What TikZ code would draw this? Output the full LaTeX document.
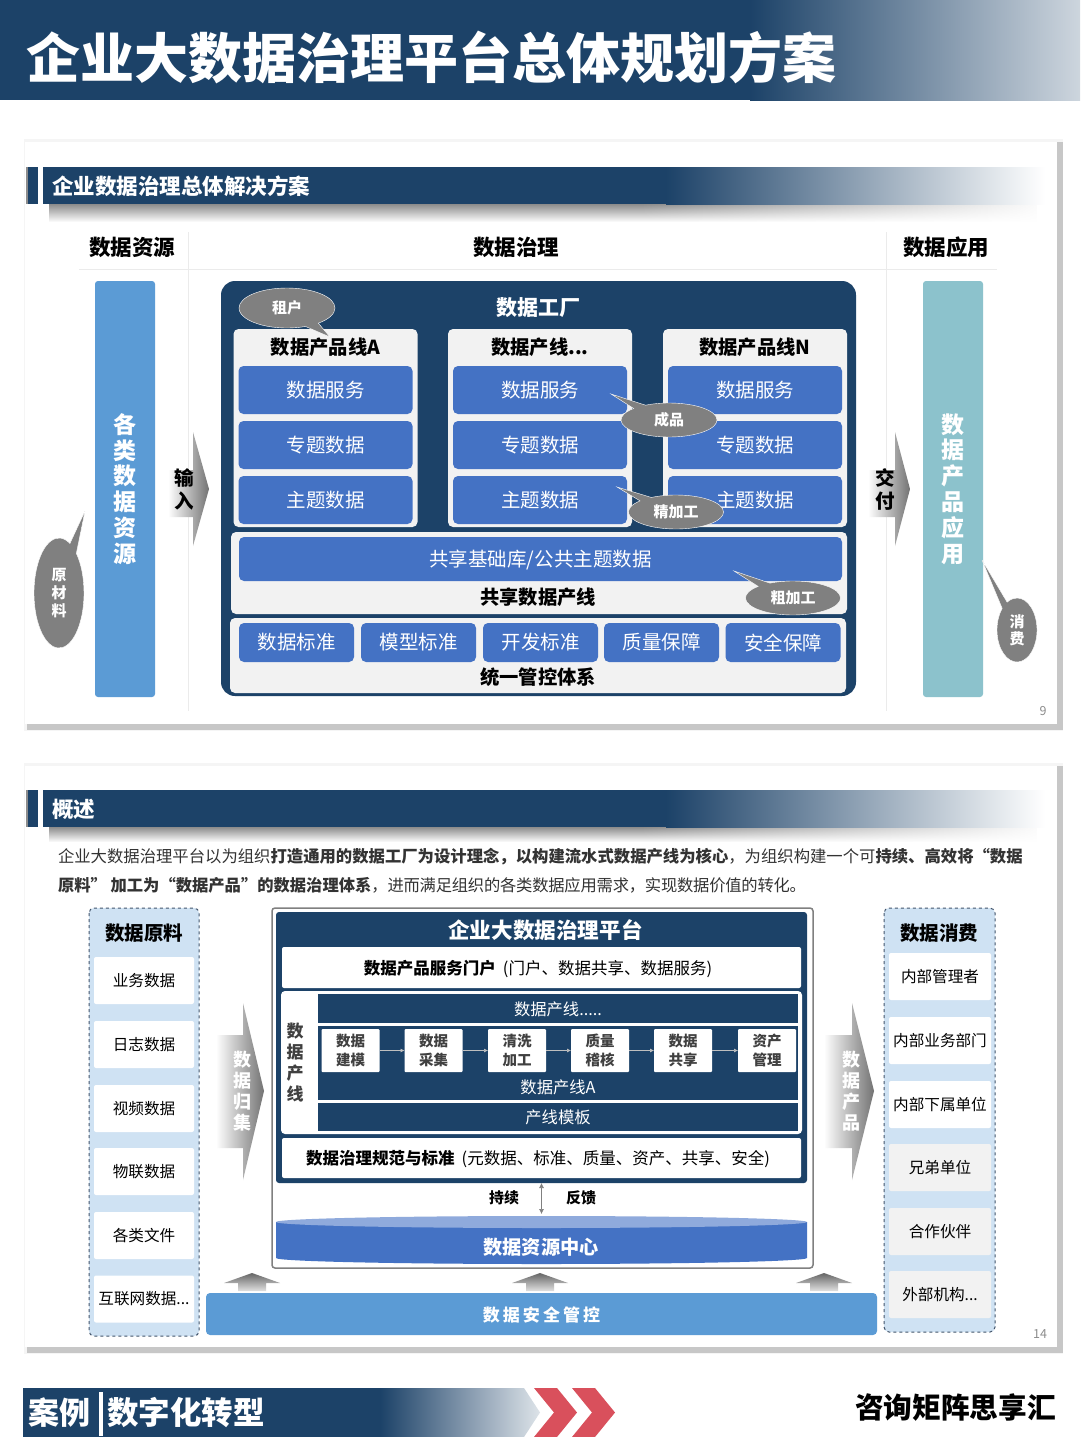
\documentclass[tikz,border=0pt]{standalone}
\usepackage{fontspec}
\setmainfont{Noto Sans CJK SC}
\usetikzlibrary{calc}
\usetikzlibrary{positioning}
\usetikzlibrary{fadings}
\usetikzlibrary{shapes.callouts}
\usetikzlibrary{arrows.meta}
\definecolor{navy}{HTML}{1C4268}
\definecolor{barblue}{HTML}{5B9BD5}
\definecolor{cellblue}{HTML}{4472C4}
\definecolor{tealbar}{HTML}{8CC2CC}
\definecolor{cardgray}{HTML}{F2F2F2}
\definecolor{bubble}{HTML}{808080}
\definecolor{dashfill}{HTML}{CFE2F3}
\definecolor{dashline}{HTML}{44566C}
\definecolor{chevron}{HTML}{D9505C}
\newcommand{\fsz}[1]{\fontsize{#1}{#1}\selectfont}
\newcommand{\sink}[2]{\raisebox{-#1}[\height][\depth]{#2}}
\tikzset{
    base/.style={inner sep=0pt, outer sep=0pt, text centered},
    cell/.style={base, fill=cellblue, rounded corners=5pt, text=white, font=\fsz{19.5}},
    card/.style={base, fill=cardgray, rounded corners=5pt},
    cardtitle/.style={base, font=\fsz{19.3}\bfseries},
    bubblebox/.style={base, ellipse callout, fill=bubble, draw=white, line width=0.4pt, text=white, font=\fsz{15}\bfseries, callout pointer arc=18},
    sidebar/.style={base, rounded corners=3pt, text=white, align=center, font=\fontsize{23}{25.8}\selectfont\bfseries},
    headbar/.style={base, anchor=west, text=white, font=\fsz{21.5}\bfseries},
    colhead/.style={base, font=\fsz{21.5}\bfseries},
    vlabel/.style={base, align=center, font=\fontsize{19.5}{23}\selectfont\bfseries},
    vwhite/.style={base, align=center, text=white, font=\fontsize{18}{21}\selectfont\bfseries},
    darkrow/.style={base, fill=navy, text=white, font=\fsz{16.3}},
    whiterow/.style={base, fill=white, rounded corners=2pt, font=\fsz{16.5}},
    source/.style={base, fill=white, rounded corners=2pt, minimum width=100pt, minimum height=47pt, font=\fsz{15.6}},
    stepcell/.style={base, fill=white, rounded corners=1pt, minimum width=58pt, minimum height=43pt, align=center, text=black!75, font=\fontsize{14.5}{18.5}\selectfont\bfseries},
    flow/.style={-{Latex[length=4pt,width=4pt]}, black!25, line width=0.6pt},
    pageno/.style={base, text=black!45, font=\fsz{12.5}},
    dashbox/.style={fill=dashfill, draw=dashline, dashed, line width=1pt, rounded corners=5pt},
    divider/.style={black!8, line width=0.8pt}
}
\begin{document}
\begin{tikzpicture}[x=1pt, y=-1pt]
    \useasboundingbox (0,0) rectangle (1080,1437);
    \fill[white] (0,0) rectangle (1080,1437);

    % Title band
    \fill[navy] (0,0) rectangle (751,100);
    \shade[left color=navy, right color=navy!22] (750,0) rectangle (1080,100);
    \node[base, anchor=west, text=white, font=\fsz{54}\bfseries] (title) at (26,57) {企业大数据治理平台总体规划方案};

    % First slide
    \fill[black!4] (24,139) rectangle (1063,731);
    \fill[black!22] (27,142) rectangle (1063,730);
    \fill[white] (25,142) rectangle (1057,724);
    \fill[black!45, path fading=south] (50,204) rectangle (1040,222);
    \fill[white, path fading=west] (640,200) rectangle (1050,224);
    \fill[black!45] (26,167) rectangle (28,204);
    \fill[navy] (28,167) rectangle (38,204);
    \fill[navy] (43,167) rectangle (667,204);
    \shade[left color=navy, right color=white] (666,167) rectangle (1045,204);
    \node[headbar] (headone) at (52,186) {企业数据治理总体解决方案};

    % Column heads
    \draw[divider] (79,269) -- (997,269);
    \draw[divider] (188,232) -- (188,711);
    \draw[divider] (886,232) -- (886,711);
    \node[colhead] (srchead) at (132,247) {数据资源};
    \node[colhead] (govhead) at (516,247) {数据治理};
    \node[colhead] (apphead) at (946,247) {数据应用};

    % Side bars
    \node[sidebar, fill=barblue, minimum width=60pt, minimum height=416pt] (srcbar) at (125,489) {各\\类\\数\\据\\资\\源};
    \node[sidebar, fill=tealbar, minimum width=60pt, minimum height=416pt] (appbar) at (953,489) {数\\据\\产\\品\\应\\用};

    % Input and delivery arrows
    \shade[left color=white, right color=black!55] (168,470) -- (193,470) -- (193,432) -- (209,489) -- (193,546) -- (193,517) -- (168,517) -- cycle;
    \shade[left color=white, right color=black!55] (868,470) -- (895,470) -- (895,432) -- (910,489) -- (895,546) -- (895,517) -- (868,517) -- cycle;
    \node[vlabel] (input) at (184,489) {输\\入};
    \node[vlabel] (deliver) at (885,489) {交\\付};

    % Data factory
    \node[base, fill=navy, rounded corners=14pt, minimum width=635pt, minimum height=415pt] (factory) at (538.5,488.5) {};
    \node[base, text=white, font=\fsz{21}\bfseries] (factoryname) at (538,307.5) {数据工厂};

    % Product lines
    \foreach \cx/\ctitle [count=\i] in {325.5/数据产品线A, 540/{数据产线...}, 755/数据产品线N} {
        \node[card, minimum width=184pt, minimum height=198pt] (line\i) at (\cx,428) {};
        \node[cardtitle] (linename\i) at (\cx,347) {\ctitle};
        \node[cell, minimum width=174pt, minimum height=48pt] (serve\i) at (\cx,390) {数据服务};
        \node[cell, minimum width=174pt, minimum height=48pt] (topic\i) at (\cx,445) {专题数据};
        \node[cell, minimum width=174pt, minimum height=48pt] (theme\i) at (\cx,500) {主题数据};
    }

    % Shared line
    \node[card, minimum width=616pt, minimum height=82pt] (shared) at (539,573) {};
    \node[cell, minimum width=603pt, minimum height=44pt] (sharedbase) at (540.5,559) {\sink{1pt}{共享基础库/公共主题数据}};
    \node[cardtitle] (sharedname) at (538,597.5) {共享数据产线};

    % Control system
    \node[card, minimum width=616pt, minimum height=75pt] (control) at (538,655.5) {};
    \foreach \cx/\ctext [count=\i] in {296.5/数据标准, 418.5/模型标准, 540.5/开发标准, 661.5/质量保障, 783/安全保障} {
        \node[cell, minimum width=115pt, minimum height=39pt] (std\i) at (\cx,642.5) {\ctext};
    }
    \node[cardtitle] (controlname) at (538,677) {统一管控体系};

    % Callouts
    \node[bubblebox, minimum width=96pt, minimum height=40pt, callout absolute pointer={(330,337)}] (tenant) at (287,308) {租户};
    \node[bubblebox, minimum width=96pt, minimum height=34pt, callout absolute pointer={(611,394)}] (finished) at (669,420) {成品};
    \node[bubblebox, minimum width=95pt, minimum height=34pt, callout absolute pointer={(617,487)}] (refined) at (676,512) {精加工};
    \node[bubblebox, minimum width=95pt, minimum height=34pt, callout absolute pointer={(734,571)}] (rough) at (793,598) {粗加工};
    \node[bubblebox, align=center, minimum width=50pt, minimum height=110pt, font=\fontsize{15}{18}\selectfont\bfseries, callout absolute pointer={(85,511)}] (rawmat) at (59,593) {原\\材\\料};
    \node[bubblebox, align=center, minimum width=40pt, minimum height=64pt, font=\fontsize{15}{17}\selectfont\bfseries, callout absolute pointer={(982,560)}] (consume) at (1017,630) {消\\费};
    \node[pageno] (pageone) at (1043,711) {9};

    % Second slide
    \fill[black!4] (24,763) rectangle (1063,1354);
    \fill[black!22] (27,766) rectangle (1063,1353);
    \fill[white] (25,766) rectangle (1057,1347);
    \fill[black!45, path fading=south] (50,827) rectangle (1040,842);
    \fill[white, path fading=west] (640,823) rectangle (1050,845);
    \fill[black!45] (26,790) rectangle (28,827);
    \fill[navy] (28,790) rectangle (38,827);
    \fill[navy] (43,790) rectangle (667,827);
    \shade[left color=navy, right color=white] (666,790) rectangle (1045,827);
    \node[headbar] (headtwo) at (52,809) {概述};

    % Summary text
    \node[base, anchor=west, text=black!80, font=\fsz{16.35}] (sumone) at (58,857) {企业大数据治理平台以为组织\textbf{打造通用的数据工厂为设计理念，以构建流水式数据产线为核心}，为组织构建一个可\textbf{持续、高效将“数据}};
    \node[base, anchor=west, text=black!80, font=\fsz{16.3}] (sumtwo) at (58,885.5) {\textbf{原料” 加工为“数据产品”的数据治理体系}{\addfontfeature{LetterSpace=-1.3}，进而满足组织的各类数据应用需求，实现数据价值的转化。}};

    % Data sources
    \draw[dashbox] (89,908) rectangle (199,1336);
    \node[base, font=\fsz{19.5}\bfseries] (srctitle) at (144,933) {数据原料};
    \foreach \cy/\ctext [count=\i] in {980.5/业务数据, 1044.5/日志数据, 1108.5/视频数据, 1171.5/物联数据, 1235.5/各类文件, 1299/{互联网数据...}} {
        \node[source] (src\i) at (144,\cy) {\ctext};
    }

    % Data consumers
    \draw[dashbox] (884,908) rectangle (995,1332);
    \node[base, font=\fsz{19.5}\bfseries] (usertitle) at (939,933) {数据消费};
    \foreach \cy/\ctext [count=\i] in {976.5/内部管理者, 1040.5/内部业务部门, 1104.5/内部下属单位} {
        \node[source, minimum width=102pt] (user\i) at (940,\cy) {\ctext};
    }
    \foreach \cy/\ctext [count=\i from 4] in {1167.5/兄弟单位, 1231.5/合作伙伴, 1294.5/{外部机构...}} {
        \node[source, minimum width=102pt, fill=cardgray] (user\i) at (940,\cy) {\ctext};
    }

    % Side arrows
    \shade[left color=white, right color=black!55] (216,1035) -- (243,1035) -- (243,1003) -- (264,1091) -- (243,1180) -- (243,1148) -- (216,1148) -- cycle;
    \shade[left color=white, right color=black!55] (824,1035) -- (852,1035) -- (852,1003) -- (874,1091) -- (852,1180) -- (852,1148) -- (824,1148) -- cycle;
    \node[vwhite] (gather) at (242,1091) {数\\据\\归\\集};
    \node[vwhite] (product) at (851,1091) {数\\据\\产\\品};

    % Platform
    \node[base, draw=black!50, fill=white, line width=1.5pt, rounded corners=3pt, minimum width=541pt, minimum height=360pt] (frame) at (542.5,1088) {};
    \node[base, fill=navy, rounded corners=3pt, minimum width=531pt, minimum height=271pt] (platform) at (541.5,1047.5) {};
    \node[base, text=white, font=\fsz{21.6}\bfseries] (platformname) at (545.5,930) {企业大数据治理平台};
    \node[whiterow, minimum width=519pt, minimum height=41pt] (portal) at (541.5,967.5) {\hspace*{-7pt}\sink{1.5pt}{\textbf{数据产品服务门户}\hspace{7pt}(门户、数据共享、数据服务)}};
    \node[base, fill=white, rounded corners=4pt, minimum width=521pt, minimum height=143pt] (lines) at (541.5,1062.5) {};
    \node[base, align=center, font=\fontsize{17}{21}\selectfont\bfseries, text=black!75] (linelabel) at (295,1063) {数\\据\\产\\线};
    \node[darkrow, minimum width=480pt, minimum height=29pt] (rowmore) at (558,1008.5) {\sink{1pt}{数据产线.....}};
    \node[darkrow, minimum width=480pt, minimum height=74pt] (rowa) at (558,1063) {};
    \node[base, text=white, font=\fsz{16.3}] (rowaname) at (558,1087) {数据产线A};
    \node[darkrow, minimum width=480pt, minimum height=28pt] (rowtpl) at (558,1117) {产线模板};

    % Process steps
    \foreach \cx/\ctext [count=\i] in {350.5/数据\\建模, 433.5/数据\\采集, 517/清洗\\加工, 600/质量\\稽核, 683/数据\\共享, 767/资产\\管理} {
        \node[stepcell] (stepbox\i) at (\cx,1050.5) {\ctext};
    }
    \foreach \i/\j in {1/2, 2/3, 3/4, 4/5, 5/6} {
        \draw[flow] (stepbox\i) -- (stepbox\j);
    }
    \node[whiterow, minimum width=519pt, minimum height=40pt] (rules) at (541.5,1158) {\hspace*{-7pt}\sink{1.5pt}{\textbf{数据治理规范与标准}\hspace{7pt}(元数据、标准、质量、资产、共享、安全)}};

    % Feedback
    \node[base, font=\fsz{15}\bfseries] (persist) at (504,1198) {持续};
    \node[base, font=\fsz{15}\bfseries] (backfeed) at (581,1198) {反馈};
    \coordinate (restop) at (541.5,1214);
    \draw[{Latex[length=5pt,width=5pt]}-{Latex[length=5pt,width=5pt]}, black!50, line width=0.6pt] (platform.south) -- (restop);

    % Resource centre
    \fill[cellblue] (276,1222) -- (807,1222) -- (807,1258) arc (0:180:265.5 and 6) -- cycle;
    \fill[cellblue!60] (541.5,1222) ellipse (265.5 and 6);
    \node[base, text=white, font=\fsz{19.2}\bfseries] (resource) at (541,1247) {数据资源中心};

    % Up arrows
    \foreach \ax in {252, 540, 824} {
        \shade[top color=black!60, bottom color=black!12] (\ax-14,1291) -- (\ax-14,1283) -- (\ax-28,1283) -- (\ax,1273) -- (\ax+28,1283) -- (\ax+14,1283) -- (\ax+14,1291) -- cycle;
    }

    % Security bar
    \node[base, fill=barblue, rounded corners=4pt, minimum width=671pt, minimum height=42pt, text=white, font=\fsz{17}\bfseries\addfontfeature{LetterSpace=18}] (security) at (541.5,1314) {\sink{1pt}{数据安全管控}};
    \node[pageno] (pagetwo) at (1040,1334) {14};

    % Footer
    \fill[navy] (23,1388) rectangle (381,1437);
    \shade[left color=navy, right color=navy!15] (380,1388) -- (524,1388) -- (540,1412.5) -- (524,1437) -- (380,1437) -- cycle;
    \fill[chevron] (534,1388) -- (557,1388) -- (577,1412.5) -- (557,1437) -- (534,1437) -- (554,1412.5) -- cycle;
    \fill[chevron] (572,1388) -- (595,1388) -- (615,1412.5) -- (595,1437) -- (572,1437) -- (592,1412.5) -- cycle;
    \node[base, anchor=west, text=white, font=\fsz{31}\bfseries] (casetag) at (28,1413) {案例};
    \fill[white] (99,1392) rectangle (103,1436);
    \node[base, anchor=west, text=white, font=\fsz{31.5}\bfseries] (casename) at (107,1413) {数字化转型};
    \node[base, font=\fsz{28.7}\bfseries] (brand) at (955.5,1408) {咨询矩阵思享汇};
\end{tikzpicture}
\end{document}
